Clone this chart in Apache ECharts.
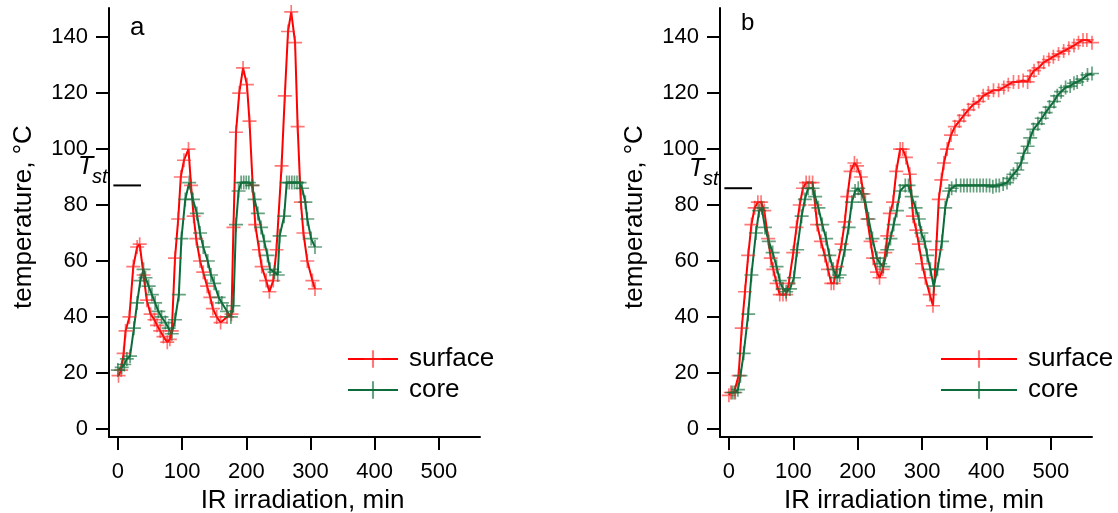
<!DOCTYPE html>
<html>
<head>
<meta charset="utf-8">
<script src="https://cdn.jsdelivr.net/npm/echarts@6/dist/echarts.min.js"></script>
<style>
  html, body { margin: 0; padding: 0; background: #fff; }
  #chart { width: 1118px; height: 513px; }
</style>
</head>
<body>
<div id="chart"></div>
<script>
// tick labels
var xTicks = [0, 100, 200, 300, 400, 500];
var yTicks = [0, 20, 40, 60, 80, 100, 120, 140];

// panel a : [min, °C]
var surfaceA = [[1,19],[5,21],[9,27],[12,35],[18,40],[24,58],[30,65],[34,66],[40,55],[45,46],[51,41],[57,39],[61,37],[66,35],[71,33],[77,31],[81,32],[84,35],[89,61],[94,75],[98,90],[103,96],[110,100],
  [114,87],[118,76],[122,68],[128,60],[133,56],[139,51],[144,47],[148,43],[154,40],[160,38],[170,40],[177,41],
  [180,72],[184,106],[189,120],[195,129],[201,123],[205,110],[210,87],[214,73],[220,64],[224,58],[231,53],[236,49],[242,53],[247,64],
  [255,94],[260,119],[265,142],[270,149],[276,138],[280,108],[285,81],[289,70],[295,60],[303,53],[307,50]];
var coreA = [[0,21],[6,22],[10,23],[14,25],[19,26],[25,36],[30,45],[35,53],[40,57],[43,54],[48,51],[53,48],[58,45],[63,42],[68,40],[74,38],[79,36],[84,34],[89,39],[95,48],[99,68],
  [105,82],[111,88],[117,82],[123,77],[128,70],[133,65],[140,60],[145,55],[150,52],[157,47],[162,45],[170,42],[176,40],[180,44],
  [184,73],[188,85],[192,88],[196,88],[200,88],[204,88],[209,87],[213,82],[218,77],[223,72],[228,67],[233,62],[237,57],[244,56],[249,55],
  [252,69],[259,76],[263,88],[267,88],[271,88],[275,88],[279,88],[283,88],[287,86],[292,81],[295,75],[301,68],[307,65]];

// panel b : [min, °C]
var surfaceB = [[0,12],[3,13],[8,13],[15,19],[20,36],[25,49],[30,62],[35,73],[40,79],[45,81],[50,81],[55,78],[61,68],[65,61],[69,57],[74,52],[79,48],[84,48],[89,48],[93,52],
  [100,63],[105,72],[110,80],[115,86],[120,88],[125,88],[130,88],[134,80],[137,73],[143,67],[149,62],[154,57],[159,52],[163,52],
  [168,58],[175,66],[180,74],[184,83],[189,92],[195,95],[199,94],[205,90],[209,84],[215,75],[220,67],[224,61],[230,56],[234,54],[239,57],
  [243,63],[246,69],[250,77],[255,81],[260,92],[266,100],[270,100],[275,97],[281,91],[286,76],[291,71],[295,66],[300,59],[305,54],[312,48],[317,44],
  [322,64],[326,82],[330,89],[334,95],[339,100],[345,105],[351,108],[358,110],[365,112],[372,114],[380,116],[388,117],[395,119],[403,120],
  [411,121],[419,121],[427,122],[434,123],[442,124],[450,124],[457,124.5],[464,124],[468,126],[474,128],[481,129],[489,131],[497,132],
  [504,133],[512,134],[520,135],[528,136],[536,137],[543,138],[550,139],[556,139],[564,138]];
var coreB = [[5,13],[10,13],[14,14],[18,19],[23,27],[30,41],[35,55],[42,70],[47,78],[51,79],[56,72],[62,67],[68,63],[74,58],[79,53],[84,50],[89,49],[95,50],
  [101,54],[106,64],[113,76],[118,82],[123,86],[130,86],[134,83],[139,79],[145,73],[151,68],[156,62],[162,57],[168,54],[172,55],
  [180,64],[186,72],[191,81],[196,85],[201,86],[206,84],[212,81],[217,75],[223,68],[230,61],[235,59],[240,58],
  [246,64],[251,68],[256,73],[261,78],[266,85],[274,87],[279,87],[284,83],[290,79],[295,75],[299,70],[304,67],[308,62],[313,57],[318,51],
  [324,57],[331,67],[336,79],[342,85],[346,86],[353,87],[360,87],[365,87],[370,87],[375,87],[380,87],[385,87],[390,87],[395,87],[400,87],
  [405,87],[410,86.5],[415,87],[420,87],[426,87.5],[432,88],[437,89.5],[442,91],[448,92.5],[454,95],[458,98.5],[464,101],[468,104],
  [473,107],[480,109],[486,111],[492,113],[498,115],[505,117],[510,119],[516,120.5],[523,122],[530,122.5],[536,123.5],[541,124],
  [549,125],[557,126.5],[564,127]];

// stationary temperature T_st level for each panel
var tstLevel = [87, 86];
var tstSpan = [-7, 36];

var font = "'Liberation Sans', Arial, sans-serif";
var plus = 'path://M0,44H100V56H0Z M44,0H56V100H44Z';

var chart = echarts.init(document.getElementById('chart'));

function xAxisFor(i, name) {
  return {
    gridIndex: i, type: 'value', min: -13.8, max: 564,
    axisLine: { show: true, onZero: false, lineStyle: { color: '#000', width: 2 } },
    axisTick: { show: true, customValues: xTicks, length: 13, lineStyle: { color: '#000', width: 2 } },
    axisLabel: { customValues: xTicks, color: '#000', fontSize: 22, fontFamily: font, margin: 24 },
    splitLine: { show: false },
    name: name, nameLocation: 'middle', nameGap: 49,
    nameTextStyle: { color: '#000', fontSize: 26, fontFamily: font, padding: [0, 0, 0, 16] }
  };
}
function yAxisFor(i) {
  return {
    gridIndex: i, type: 'value', min: -2.9, max: 150.4,
    axisLine: { show: true, onZero: false, lineStyle: { color: '#000', width: 2 } },
    axisTick: { show: true, customValues: yTicks, length: 13, lineStyle: { color: '#000', width: 2 } },
    axisLabel: { customValues: yTicks, color: '#000', fontSize: 22, fontFamily: font, margin: 21 },
    splitLine: { show: false },
    name: 'temperature, °C', nameLocation: 'middle', nameGap: 72,
    nameTextStyle: { color: '#000', fontSize: 26, fontFamily: font, padding: [0, 0, 0, 11] }
  };
}
function curve(name, i, data, line, mark) {
  return {
    name: name, type: 'line', xAxisIndex: i, yAxisIndex: i, data: data,
    symbol: plus, symbolSize: 14, showAllSymbol: true,
    lineStyle: { color: line, width: 2 },
    itemStyle: { color: mark },
    emphasis: { disabled: true }
  };
}
function tstLine(i) {
  return {
    type: 'line', xAxisIndex: i, yAxisIndex: i, symbol: 'none', silent: true,
    data: [[tstSpan[0], tstLevel[i]], [tstSpan[1], tstLevel[i]]],
    lineStyle: { color: '#000', width: 2 }
  };
}
function legendAt(left, w) {
  return {
    orient: 'vertical', left: left, top: 346, padding: 0, itemGap: 5,
    itemWidth: w, itemHeight: 22, data: ['surface', 'core'],
    textStyle: { color: '#000', fontSize: 26, fontFamily: font, lineHeight: 26, padding: [0, 0, 0, 6] }
  };
}
function label(text, x, y, size, italic) {
  return {
    type: 'text', x: x, y: y,
    style: { text: text, fill: '#000', fontSize: size, fontFamily: font,
      fontStyle: italic ? 'italic' : 'normal', verticalAlign: 'middle' }
  };
}

var red = '#ff0000', redMark = 'rgba(255,30,30,0.6)';
var green = '#0b6b3a', greenMark = 'rgba(20,110,60,0.65)';

var option = {
  animation: false,
  backgroundColor: '#fff',
  grid: [
    { left: 109, top: 8, width: 371, height: 429, outerBoundsMode: 'none' },
    { left: 720, top: 8, width: 372, height: 429, outerBoundsMode: 'none' }
  ],
  xAxis: [xAxisFor(0, 'IR irradiation, min'), xAxisFor(1, 'IR irradiation time, min')],
  yAxis: [yAxisFor(0), yAxisFor(1)],
  legend: [legendAt(347, 50), legendAt(940, 76)],
  series: [
    tstLine(0), tstLine(1),
    curve('surface', 0, surfaceA, red, redMark),
    curve('core', 0, coreA, green, greenMark),
    curve('surface', 1, surfaceB, red, redMark),
    curve('core', 1, coreB, green, greenMark)
  ],
  graphic: [
    label('a', 130, 28, 26, false),
    label('b', 741, 23, 24, false),
    label('T', 78, 167, 25, true),
    label('st', 92, 177, 20, true),
    label('T', 689, 169, 25, true),
    label('st', 703, 179, 20, true)
  ]
};

option && chart.setOption(option);
window.addEventListener('resize', function () {
  chart.resize();
});
</script>
</body>
</html>
